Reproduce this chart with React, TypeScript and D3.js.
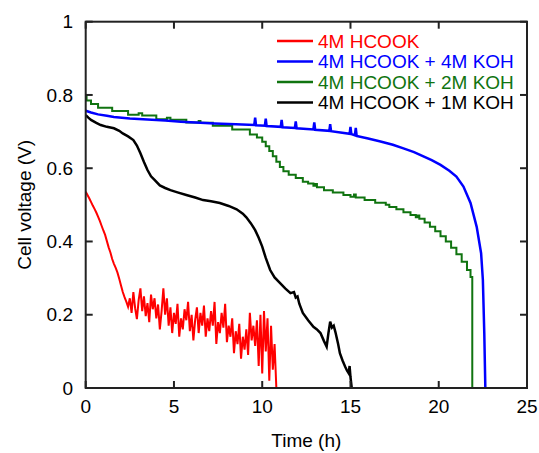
import * as d3 from 'd3'

// red: 4M HCOOK, sampled every 0.1 h
const redStep = 0.1
const redV = [
  0.536, 0.527, 0.518, 0.508, 0.498, 0.489, 0.479, 0.468, 0.456, 0.443,
  0.43, 0.418, 0.401, 0.384, 0.37, 0.352, 0.339, 0.328, 0.315, 0.298,
  0.28, 0.262, 0.248, 0.236, 0.222, 0.245, 0.205, 0.262, 0.218, 0.188,
  0.24, 0.272, 0.21, 0.25, 0.196, 0.232, 0.18, 0.255, 0.215, 0.245,
  0.19, 0.228, 0.16, 0.21, 0.272, 0.2, 0.245, 0.17, 0.22, 0.15,
  0.205, 0.175, 0.23, 0.14, 0.19, 0.16, 0.215, 0.185, 0.235, 0.155,
  0.2, 0.13, 0.185, 0.22, 0.15, 0.205, 0.17, 0.225, 0.14, 0.19,
  0.155, 0.21, 0.17, 0.235, 0.12, 0.18, 0.15, 0.205, 0.165, 0.23,
  0.125, 0.17, 0.14, 0.19, 0.095, 0.155, 0.12, 0.175, 0.08, 0.14,
  0.105, 0.16, 0.09, 0.205, 0.13, 0.17, 0.115, 0.185, 0.06, 0.2,
  0.04, 0.21, 0.1, 0.19, 0.02, 0.17, 0.05, 0.12, 0.0,
]

// blue: 4M HCOOK + 4M KOH [time h, voltage V]
const blue: [number, number][] = [
  [0, 0.757], [0.3, 0.752], [0.7, 0.747], [1.2, 0.743], [1.6, 0.74], [2.5, 0.736],
  [3.5, 0.733], [4.5, 0.73], [5.4, 0.727], [6.5, 0.724], [7.3, 0.722], [8.5, 0.72],
  [9.55, 0.718], [9.6, 0.738], [9.65, 0.717], [10.15, 0.716], [10.2, 0.735], [10.25, 0.715],
  [11.05, 0.713], [11.1, 0.732], [11.15, 0.712], [11.85, 0.71], [11.9, 0.728], [11.95, 0.709],
  [12.9, 0.706], [12.95, 0.725], [13.0, 0.705], [13.8, 0.702], [13.85, 0.72], [13.9, 0.701],
  [14.95, 0.694], [15.0, 0.713], [15.05, 0.693], [15.25, 0.69], [15.3, 0.71], [15.35, 0.688],
  [16.0, 0.681], [16.7, 0.673], [17.4, 0.664], [18.0, 0.654], [18.6, 0.644], [19.1, 0.633],
  [19.6, 0.622], [20.1, 0.609], [20.6, 0.593], [21.0, 0.577], [21.4, 0.55], [21.8, 0.505],
  [22.15, 0.44], [22.4, 0.368], [22.5, 0.295], [22.58, 0.15], [22.64, 0],
]

// green: 4M HCOOK + 2M KOH (stepped logger output)
const green: [number, number][] = [
  [0, 0.8], [0.05, 0.785], [0.3, 0.775], [0.7, 0.765], [1.5, 0.756], [2.4, 0.746],
  [3.0, 0.75], [3.2, 0.744], [4.0, 0.734], [4.6, 0.738], [4.8, 0.732], [5.7, 0.725],
  [6.4, 0.729], [6.5, 0.724], [7.2, 0.716], [8.3, 0.706], [9.3, 0.692], [9.7, 0.684],
  [10.0, 0.672], [10.2, 0.66], [10.4, 0.647], [10.6, 0.633], [10.8, 0.618], [11.0, 0.603],
  [11.2, 0.592], [11.5, 0.582], [11.9, 0.573], [12.3, 0.563], [12.6, 0.558], [12.9, 0.552],
  [13.0, 0.557], [13.1, 0.548], [13.5, 0.54], [14.0, 0.534], [14.6, 0.527], [15.0, 0.522],
  [15.2, 0.528], [15.3, 0.52], [15.8, 0.513], [16.4, 0.506], [17.0, 0.5], [17.2, 0.494],
  [17.6, 0.488], [18.0, 0.48], [18.4, 0.472], [18.7, 0.466], [18.8, 0.471], [18.9, 0.462],
  [19.2, 0.452], [19.5, 0.44], [19.8, 0.428], [20.1, 0.414], [20.4, 0.4], [20.7, 0.383],
  [21.0, 0.365], [21.3, 0.345], [21.6, 0.322], [21.8, 0.303], [21.9, 0.0],
]

// black: 4M HCOOK + 1M KOH
const black: [number, number][] = [
  [0, 0.745], [0.15, 0.738], [0.3, 0.732], [0.6, 0.724], [0.85, 0.718], [1.2, 0.713],
  [1.6, 0.709], [1.9, 0.702], [2.1, 0.695], [2.4, 0.687], [2.7, 0.677], [2.9, 0.662],
  [3.1, 0.641], [3.3, 0.617], [3.5, 0.595], [3.7, 0.578], [3.9, 0.568], [4.2, 0.553],
  [4.5, 0.546], [4.8, 0.54], [5.2, 0.534], [5.7, 0.527], [6.2, 0.52], [6.65, 0.513],
  [7.1, 0.51], [7.6, 0.505], [8.1, 0.497], [8.55, 0.488], [8.9, 0.476], [9.1, 0.466],
  [9.35, 0.45], [9.6, 0.431], [9.8, 0.41], [10.0, 0.386], [10.2, 0.355], [10.45, 0.322],
  [10.7, 0.302], [11.0, 0.287], [11.3, 0.272], [11.6, 0.259], [11.8, 0.262], [11.9, 0.247],
  [12.0, 0.25], [12.1, 0.23], [12.3, 0.205], [12.6, 0.185], [12.9, 0.167], [13.1, 0.16],
  [13.3, 0.15], [13.5, 0.128], [13.65, 0.113], [13.75, 0.15], [13.85, 0.181], [13.95, 0.165],
  [14.05, 0.17], [14.15, 0.152], [14.3, 0.12], [14.4, 0.095], [14.55, 0.075], [14.7, 0.058],
  [14.8, 0.048], [14.9, 0.04], [14.95, 0.06], [15.0, 0.03], [15.07, 0.0],
]

const xTicks = [0, 5, 10, 15, 20, 25]
const yTicks = [0, 0.2, 0.4, 0.6, 0.8, 1]
const legendLabels = ['4M HCOOK', '4M HCOOK + 4M KOH', '4M HCOOK + 2M KOH', '4M HCOOK + 1M KOH']
const legendColors = ['#ff0000', '#0000ff', '#107410', '#000000']

const W = 539
const H = 453
const left = 85.7
const right = 527
const top = 21.7
const bottom = 388
const font = 'Arial, "Liberation Sans", sans-serif'

export default function App() {
  const x = d3.scaleLinear().domain([0, 25]).range([left, right])
  const y = d3.scaleLinear().domain([0, 1]).range([bottom, top])

  const line = d3.line<[number, number]>().x(d => x(d[0])).y(d => y(d[1]))
  const stepLine = d3.line<[number, number]>().x(d => x(d[0])).y(d => y(d[1])).curve(d3.curveStepAfter)
  const red: [number, number][] = redV.map((v, i) => [i * redStep, v])

  const tickLen = 7

  return (
    <svg width={W} height={H} style={{ position: 'absolute', left: 0, top: 0, background: '#fff' }}
      fontFamily={font}>
      {/* series */}
      <path d={stepLine(green) ?? ''} fill="none" stroke={legendColors[2]} strokeWidth={2} />
      <path d={line(blue) ?? ''} fill="none" stroke={legendColors[1]} strokeWidth={2.5} />
      <path d={line(black) ?? ''} fill="none" stroke={legendColors[3]} strokeWidth={2.5} />
      <path d={line(red) ?? ''} fill="none" stroke={legendColors[0]} strokeWidth={2} />

      {/* frame */}
      <rect x={left} y={top} width={right - left} height={bottom - top} fill="none" stroke="#222" strokeWidth={2} />

      {/* ticks */}
      {xTicks.map(t => (
        <g key={'x' + t}>
          <line x1={x(t)} x2={x(t)} y1={bottom} y2={bottom - tickLen} stroke="#222" strokeWidth={2} />
          <line x1={x(t)} x2={x(t)} y1={top} y2={top + tickLen} stroke="#222" strokeWidth={2} />
          <text x={x(t)} y={413} textAnchor="middle" fontSize={19} fill="#000">{t}</text>
        </g>
      ))}
      {yTicks.map(t => (
        <g key={'y' + t}>
          <line x1={left} x2={left + tickLen} y1={y(t)} y2={y(t)} stroke="#222" strokeWidth={2} />
          <line x1={right} x2={right - tickLen} y1={y(t)} y2={y(t)} stroke="#222" strokeWidth={2} />
          <text x={73} y={y(t)} dy="0.35em" textAnchor="end" fontSize={19} fill="#000">{t}</text>
        </g>
      ))}

      {/* axis titles */}
      <text x={(left + right) / 2} y={447} textAnchor="middle" fontSize={19} fill="#000">Time (h)</text>
      <text transform={`translate(24,${(top + bottom) / 2}) rotate(-90)`} dy="0.35em" textAnchor="middle"
        fontSize={19} fill="#000">Cell voltage (V)</text>

      {/* legend */}
      {legendLabels.map((lab, i) => {
        const ly = 41 + i * 20.5
        return (
          <g key={lab}>
            <line x1={277} x2={313} y1={ly} y2={ly} stroke={legendColors[i]} strokeWidth={2.5} />
            <text x={318} y={ly} dy="0.35em" fontSize={19} fill={legendColors[i]}>{lab}</text>
          </g>
        )
      })}
    </svg>
  )
}
